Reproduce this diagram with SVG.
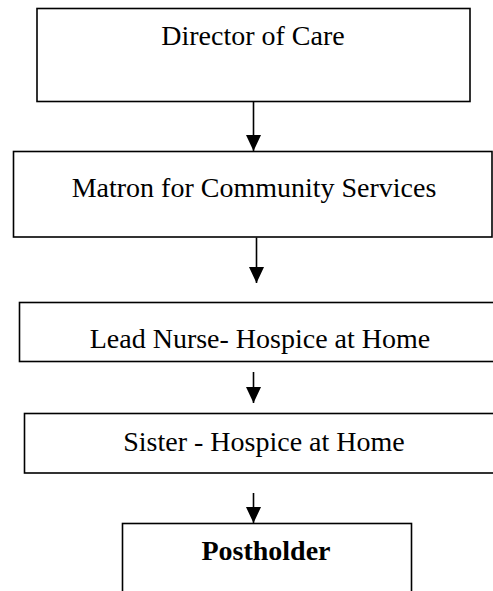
<svg xmlns="http://www.w3.org/2000/svg" width="493" height="591" viewBox="0 0 493 591">
  <style>
    .box { fill: #ffffff; stroke: #000000; stroke-width: 1.6; }
    .lbl { font-family: "Liberation Serif", "Times New Roman", serif; font-size: 28px; fill: #000000; text-anchor: middle; }
    .bold { font-weight: bold; }
    .conn { stroke: #000000; stroke-width: 1.6; fill: none; }
  </style>
  <defs>
    <marker id="arrow" viewBox="0 0 16 15" refX="16" refY="7.5" markerWidth="16" markerHeight="15" markerUnits="userSpaceOnUse" orient="auto">
      <path d="M0,0 L16,7.5 L0,15 Z" fill="#000000"/>
    </marker>
  </defs>
  <rect width="493" height="591" fill="#ffffff"/>
  <g id="director">
    <rect class="box" x="37" y="8.5" width="433" height="93"/>
    <text class="lbl" x="253" y="45">Director of Care</text>
  </g>
  <g id="matron">
    <rect class="box" x="13.5" y="151.5" width="478.5" height="85.5"/>
    <text class="lbl" x="254" y="197">Matron for Community Services</text>
  </g>
  <g id="lead-nurse">
    <rect class="box" x="19.5" y="302.5" width="485" height="59"/>
    <text class="lbl" x="260" y="348">Lead Nurse- Hospice at Home</text>
  </g>
  <g id="sister">
    <rect class="box" x="24.5" y="413.5" width="485" height="59.5"/>
    <text class="lbl" x="264" y="451">Sister - Hospice at Home</text>
  </g>
  <g id="postholder">
    <rect class="box" x="122.5" y="523.5" width="289" height="80"/>
    <text class="lbl bold" x="266" y="560">Postholder</text>
  </g>
  <g id="connectors">
    <line class="conn" x1="253.5" y1="102" x2="253.5" y2="151" marker-end="url(#arrow)"/>
    <line class="conn" x1="256.5" y1="237.5" x2="256.5" y2="283" marker-end="url(#arrow)"/>
    <line class="conn" x1="253.5" y1="372" x2="253.5" y2="403" marker-end="url(#arrow)"/>
    <line class="conn" x1="253.5" y1="493" x2="253.5" y2="523" marker-end="url(#arrow)"/>
  </g>
</svg>
